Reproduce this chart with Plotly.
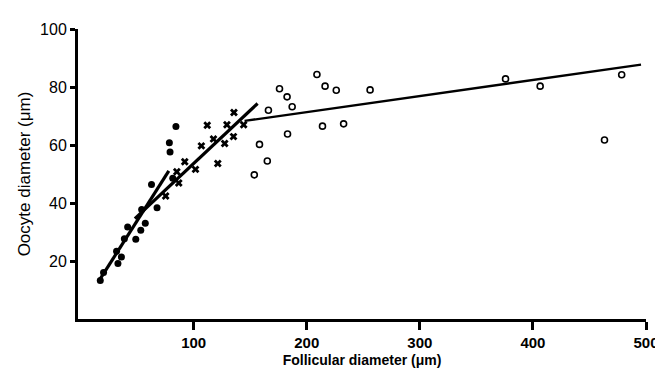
import plotly.graph_objects as go

# Filled dots (small follicles)
dots_x = [17.4, 20.3, 31.8, 33.0, 36.1, 38.7, 41.6, 48.8, 53.2, 57.2, 54.0, 62.7, 67.6, 78.5, 79.1, 84.3, 81.5]
dots_y = [13.3, 16.0, 23.4, 19.1, 21.4, 27.7, 31.7, 27.5, 30.6, 33.0, 37.8, 46.4, 38.4, 60.8, 57.6, 66.4, 48.5]

# Crosses (intermediate follicles)
cross_x = [75.2, 86.8, 85.1, 92.1, 101.6, 106.8, 112.0, 117.5, 121.3, 127.4, 129.4, 135.2, 135.6, 144.2]
cross_y = [42.4, 46.9, 50.8, 54.2, 51.6, 59.7, 66.8, 62.1, 53.6, 60.5, 67.0, 62.9, 71.2, 67.0]

# Open circles (large follicles)
open_x = [153.6, 158.2, 165.1, 166.1, 175.9, 182.6, 187.1, 183.0, 209.0, 213.9, 216.2, 226.1, 232.6, 256.0, 375.8, 406.4, 463.3, 478.5]
open_y = [49.7, 60.2, 54.5, 72.0, 79.4, 76.6, 73.2, 63.8, 84.3, 66.5, 80.3, 78.9, 67.3, 79.0, 82.8, 80.3, 61.7, 84.2]

# Regression line end points
line1_x = [16.5, 78.0]
line1_y = [13.3, 51.1]
line2_x = [48.0, 156.5]
line2_y = [34.6, 74.3]
line3_x = [145.0, 495.6]
line3_y = [68.3, 87.7]

x_ticks = [100, 200, 300, 400, 500]
y_ticks = [20, 40, 60, 80, 100]

fig = go.Figure()

fig.add_trace(go.Scatter(x=line1_x, y=line1_y, mode="lines",
                         line=dict(color="black", width=3.2)))
fig.add_trace(go.Scatter(x=line2_x, y=line2_y, mode="lines",
                         line=dict(color="black", width=3.2)))
fig.add_trace(go.Scatter(x=line3_x, y=line3_y, mode="lines",
                         line=dict(color="black", width=2.4)))

fig.add_trace(go.Scatter(x=dots_x, y=dots_y, mode="markers",
                         marker=dict(symbol="circle", size=7, color="black")))
fig.add_trace(go.Scatter(x=cross_x, y=cross_y, mode="markers",
                         marker=dict(symbol="x", size=7, color="black",
                                     line=dict(width=0))))
fig.add_trace(go.Scatter(x=open_x, y=open_y, mode="markers",
                         marker=dict(symbol="circle-open", size=6, color="black",
                                     line=dict(width=1.6, color="black"))))

font_main = "Liberation Sans, Arial, sans-serif"

fig.update_layout(
    width=663, height=371,
    margin=dict(l=70, r=13, t=21, b=60),
    paper_bgcolor="white", plot_bgcolor="white",
    showlegend=False,
    font=dict(family=font_main, color="black", size=14),
    xaxis=dict(
        range=[-2.3, 500], tickvals=x_ticks,
        ticktext=[f"<b>{v}</b>" for v in x_ticks],
        showgrid=False, zeroline=False,
        showline=True, linecolor="black", linewidth=3,
        ticks="outside", ticklen=8, tickwidth=3, tickcolor="black",
        tickfont=dict(size=15, family=font_main),
        title=dict(text="<b>Follicular diameter (μm)</b>", font=dict(size=14), standoff=6),
    ),
    yaxis=dict(
        range=[0, 100], tickvals=y_ticks,
        showgrid=False, zeroline=False,
        showline=True, linecolor="black", linewidth=3,
        ticks="outside", ticklen=5, tickwidth=3, tickcolor="black",
        tickfont=dict(size=16, family=font_main),
        title=dict(text="Oocyte diameter (μm)", font=dict(size=17), standoff=6),
    ),
)

fig.write_html("out.html")
